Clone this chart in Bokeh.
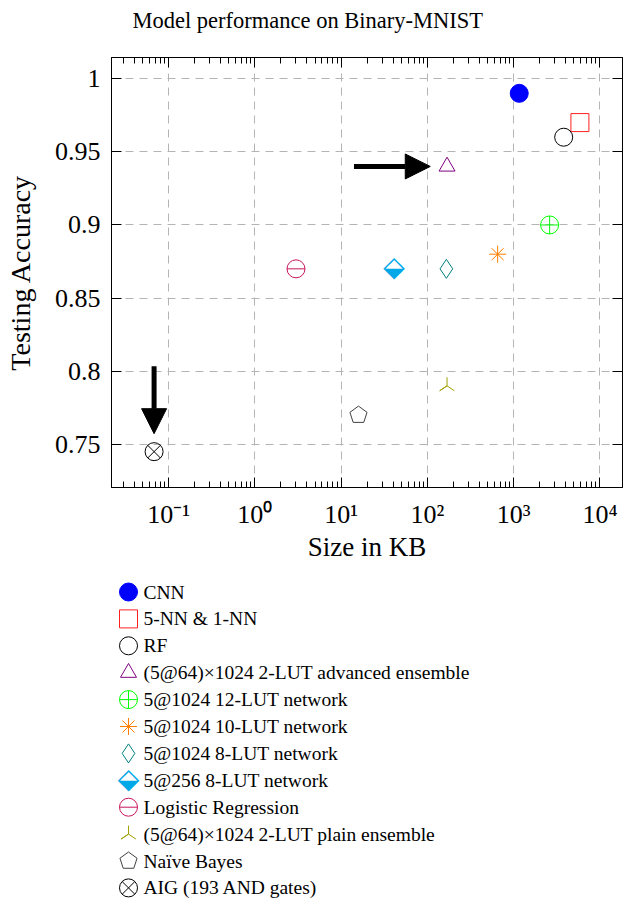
import math
from bokeh.plotting import figure
from bokeh.models import (Range1d, LogAxis, LinearAxis, FixedTicker, Arrow, NormalHead,
                          CustomJSTickFormatter, ColumnDataSource)
from bokeh.layouts import column
from bokeh.embed import file_html
from bokeh.resources import INLINE
from bokeh.core.properties import value

# ---------------- data ----------------
models = ["CNN", "5-NN & 1-NN", "RF", "(5@64)×1024 2-LUT advanced ensemble",
          "5@1024 12-LUT network", "5@1024 10-LUT network", "5@1024 8-LUT network",
          "5@256 8-LUT network", "Logistic Regression", "(5@64)×1024 2-LUT plain ensemble",
          "Naïve Bayes", "AIG (193 AND gates)"]
size_kb = [1160, 5860, 3800, 169, 2610, 652, 166, 41, 3.0, 169, 15.9, 0.068]
accuracy = [0.99, 0.97, 0.96, 0.94, 0.90, 0.88, 0.87, 0.87, 0.87, 0.79, 0.77, 0.745]

x_ticks = [0.1, 1, 10, 100, 1000, 10000]
x_tick_labels = ["10⁻¹", "10⁰", "10¹", "10²", "10³", "10⁴"]
y_ticks = [0.75, 0.8, 0.85, 0.9, 0.95, 1.0]
y_tick_labels = ["0.75", "0.8", "0.85", "0.9", "0.95", "1"]

arrow_x_start = [14.1, 0.068]
arrow_x_end = [108, 0.068]
arrow_y_start = [0.94, 0.8034]
arrow_y_end = [0.94, 0.7573]

# ---------------- styles ----------------
SERIF = "Liberation Serif"
colors = ["#0000ff", "#ff2020", "#000000", "#800080", "#00ff00", "#ff8000",
          "#008080", "#00a8e8", "#c8145a", "#a0a000", "#404040", "#000000"]

def layers(i):
    c = colors[i]
    return {
        0: [("scatter", dict(marker="circle", size=18, fill_color=c, line_color=c))],
        1: [("scatter", dict(marker="square", size=18, fill_color=None, line_color=c))],
        2: [("scatter", dict(marker="circle", size=18, fill_color=None, line_color=c))],
        3: [("scatter", dict(marker="triangle", size=16, fill_color=None, line_color=c))],
        4: [("scatter", dict(marker="circle_cross", size=18, fill_color=None, line_color=c))],
        5: [("scatter", dict(marker="asterisk", size=17, line_color=c))],
        6: [("scatter", dict(marker="diamond", size=19, fill_color=None, line_color=c))],
        7: [("text", dict(text="⬙", size="28px", color=c))],
        8: [("scatter", dict(marker="circle", size=18, fill_color=None, line_color=c)),
            ("scatter", dict(marker="dash", size=18, line_color=c))],
        9: [("scatter", dict(marker="y", size=17, angle=math.pi, line_color=c))],
        10: [("ngon", dict(radius=9, n=5, line_color=c))],
        11: [("scatter", dict(marker="circle_x", size=18, fill_color=None, line_color=c))],
    }[i]

def draw_marker(fig, i, x, y):
    src = ColumnDataSource(dict(x=[x], y=[y]))
    for kind, kw in layers(i):
        kw = dict(kw)
        if kind == "scatter":
            fig.scatter("x", "y", source=src, line_width=1, **kw)
        elif kind == "text":
            fig.text("x", "y", source=src, text=value(kw["text"]), text_font=value("DejaVu Sans"),
                     text_font_size=kw["size"], text_color=kw["color"],
                     text_align="center", text_baseline="middle", y_offset=-2)
        elif kind == "ngon":
            fig.ngon("x", "y", source=src, radius=kw["radius"], radius_units="screen",
                     n=kw["n"], angle=0, fill_color=None,
                     line_color=kw["line_color"], line_width=1)

# ---------------- ranges (10% enlargement as in pgfplots) ----------------
lx0, lx1 = math.log10(min(size_kb)), math.log10(max(size_kb))
px = 0.1 * (lx1 - lx0)
y0, y1 = min(accuracy), max(accuracy)
py = 0.1 * (y1 - y0)

W = 630
BL, BR = 111, 8
H1, BT, BB = 575, 57, 88
p = figure(width=W, height=H1, x_axis_type="log",
           x_range=Range1d(10 ** (lx0 - px), 10 ** (lx1 + px)),
           y_range=Range1d(y0 - py, y1 + py),
           output_backend="svg", toolbar_location=None,
           min_border_left=BL, min_border_right=BR, min_border_top=BT, min_border_bottom=BB)
p.background_fill_color = "white"
p.border_fill_color = "white"
p.outline_line_color = "black"
p.outline_line_width = 1

# trailing empty line lifts the title away from the frame
p.title.text = "Model performance on Binary-MNIST\n"
p.title.text_font = SERIF
p.title.text_font_size = "22.5px"
p.title.text_font_style = "normal"
p.title.text_color = "black"
p.title.align = "left"
p.title.offset = 21
p.title.standoff = 0

minor = [m * 10 ** e for e in range(-2, 5) for m in range(2, 10)]
xticker = FixedTicker(ticks=x_ticks, minor_ticks=minor)
yticker = FixedTicker(ticks=y_ticks, minor_ticks=[])

xa = p.xaxis[0]
xa.ticker = xticker
xa.major_label_overrides = {t: l for t, l in zip(x_ticks, x_tick_labels)}
ya = p.yaxis[0]
ya.ticker = yticker
ya.major_label_overrides = {t: l for t, l in zip(y_ticks, y_tick_labels)}

xa.axis_label = "Size in KB"
ya.axis_label = "Testing Accuracy"

blank = CustomJSTickFormatter(code="return ''")
top = LogAxis(ticker=xticker, formatter=blank)
right = LinearAxis(ticker=yticker, formatter=blank)
p.add_layout(top, "above")
p.add_layout(right, "right")

for ax in [xa, ya, top, right]:
    ax.major_tick_in = 10
    ax.major_tick_out = 0
    ax.minor_tick_in = 6
    ax.minor_tick_out = 0
    ax.axis_line_color = "black"
    ax.major_tick_line_color = "black"
    ax.minor_tick_line_color = "black"
    ax.major_label_text_font = SERIF
    ax.major_label_text_color = "black"
    ax.axis_label_text_font = SERIF
    ax.axis_label_text_font_style = "normal"
    ax.axis_label_text_color = "black"
for ax in [top, right]:
    ax.major_label_text_font_size = "0px"
    ax.major_label_standoff = 0
xa.major_label_text_font_size = "26px"
ya.major_label_text_font_size = "26px"
xa.axis_label_text_font_size = "27px"
ya.axis_label_text_font_size = "28px"
xa.major_label_standoff = 12
ya.major_label_standoff = 11
xa.axis_label_standoff = 0
ya.axis_label_standoff = 16

p.grid.grid_line_color = "#b4b4b4"
p.grid.grid_line_dash = "8 6"
p.grid.grid_line_width = 1
p.xgrid.ticker = xticker
p.ygrid.ticker = yticker

for i in range(len(models)):
    draw_marker(p, i, size_kb[i], accuracy[i])

asrc = ColumnDataSource(dict(x0=arrow_x_start, y0=arrow_y_start, x1=arrow_x_end, y1=arrow_y_end))
p.add_layout(Arrow(end=NormalHead(size=25, fill_color="black", line_color="black", line_width=1),
                   x_start="x0", y_start="y0", x_end="x1", y_end="y1", source=asrc,
                   line_width=5, line_color="black"))

# ---------------- legend (separate figure below, pixel coordinates) ----------------
LH = 902 - H1
leg = figure(width=W, height=LH, x_range=Range1d(BL, W - BR), y_range=Range1d(LH, 0),
             output_backend="svg", toolbar_location=None,
             min_border_left=BL, min_border_right=BR, min_border_top=0, min_border_bottom=0,
             x_axis_location=None, y_axis_location=None)
leg.grid.visible = False
leg.outline_line_color = None
leg.border_fill_color = "white"

row0, pitch, mark_x, text_x = 16.5, 26.9, 128, 143
rows = [row0 + pitch * i for i in range(len(models))]
for i in range(len(models)):
    draw_marker(leg, i, mark_x, rows[i])
leg.text(x=[text_x] * len(models), y=rows, text=models,
         text_font=value(SERIF), text_font_size="19.5px", text_color="black",
         text_align="left", text_baseline="middle")

layout = column(p, leg, spacing=0)
open("out.html", "w").write(file_html(layout, INLINE))
